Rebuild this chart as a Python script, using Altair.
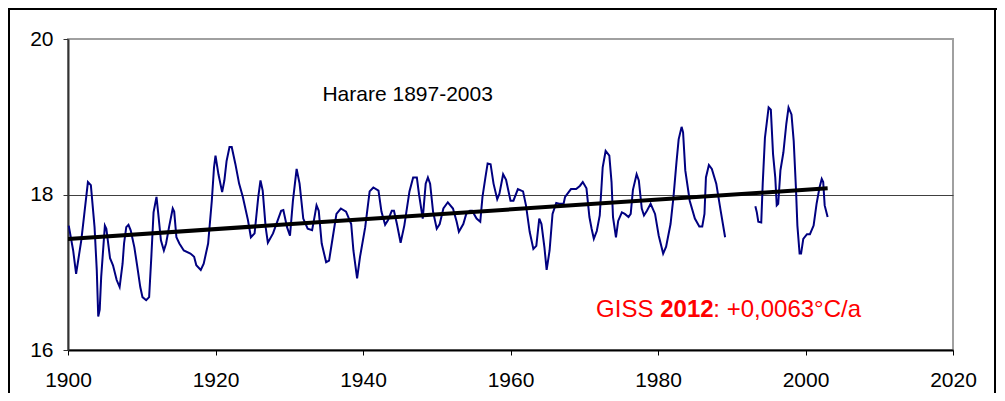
import altair as alt
import pandas as pd

# Smoothed temperature series, part 1 (1900-1989)
years1 = [1900.1, 1900.7, 1901.1, 1901.8, 1902.2, 1902.7, 1903.1, 1903.6, 1903.9, 1904.1,
          1904.3, 1904.5, 1905.0, 1905.2, 1905.7, 1906.1, 1906.6, 1907.0, 1907.4, 1907.6,
          1907.9, 1908.2, 1908.5, 1909.0, 1909.4, 1909.8, 1910.1, 1910.6, 1911.0, 1911.3,
          1911.6, 1912.0, 1912.2, 1912.6, 1913.0, 1913.3, 1913.7, 1914.2, 1914.4, 1914.7,
          1915.1, 1915.7, 1916.6, 1917.1, 1917.4, 1918.0, 1918.4, 1919.0, 1919.5, 1919.8,
          1920.0, 1920.4, 1920.9, 1921.2, 1921.5, 1921.9, 1922.2, 1922.7, 1923.2, 1923.7,
          1924.4, 1924.8, 1925.3, 1925.8, 1926.1, 1926.4, 1926.8, 1927.1, 1927.8, 1928.9,
          1929.2, 1929.7, 1930.1, 1930.5, 1931.0, 1931.4, 1931.9, 1932.5, 1933.1, 1933.5,
          1933.7, 1934.0, 1934.4, 1935.0, 1935.4, 1935.9, 1936.4, 1937.0, 1937.7, 1938.4,
          1938.7, 1939.2, 1939.6, 1940.3, 1940.9, 1941.4, 1942.1, 1942.5, 1943.0, 1943.4,
          1943.9, 1944.2, 1944.6, 1945.1, 1945.6, 1946.3, 1946.8, 1947.3, 1947.6, 1948.1,
          1948.5, 1948.8, 1949.1, 1949.5, 1950.0, 1950.4, 1950.9, 1951.5, 1952.2, 1952.7,
          1953.0, 1953.6, 1954.0, 1954.5, 1954.8, 1955.4, 1955.9, 1956.2, 1956.6, 1956.9,
          1957.3, 1957.7, 1958.2, 1958.5, 1959.0, 1959.4, 1960.0, 1960.4, 1961.0, 1961.7,
          1962.1, 1962.6, 1963.1, 1963.5, 1963.9, 1964.2, 1964.6, 1964.9, 1965.3, 1965.7,
          1966.2, 1966.6, 1967.2, 1967.4, 1968.2, 1968.9, 1969.4, 1969.8, 1970.3, 1970.7,
          1971.0, 1971.3, 1971.7, 1972.1, 1972.5, 1972.9, 1973.4, 1973.7, 1973.9, 1974.3,
          1974.6, 1975.1, 1975.5, 1976.0, 1976.3, 1976.6, 1977.1, 1977.4, 1977.8, 1978.1,
          1978.5, 1979.0, 1979.6, 1980.1, 1980.7, 1981.1, 1981.7, 1982.1, 1982.5, 1982.8,
          1983.2, 1983.4, 1983.7, 1984.3, 1985.0, 1985.6, 1986.0, 1986.3, 1986.5, 1986.9,
          1987.3, 1987.9, 1988.5, 1989.1]
temps1 = [17.60, 17.28, 16.98, 17.41, 17.74, 18.16, 18.12, 17.58, 17.03, 16.43,
          16.52, 16.94, 17.60, 17.56, 17.18, 17.09, 16.90, 16.81, 17.11, 17.37,
          17.58, 17.61, 17.54, 17.32, 17.07, 16.81, 16.68, 16.64, 16.68, 17.20,
          17.77, 17.97, 17.79, 17.41, 17.28, 17.37, 17.58, 17.82, 17.78, 17.45,
          17.37, 17.28, 17.24, 17.20, 17.09, 17.03, 17.11, 17.37, 17.92, 18.35,
          18.50, 18.26, 18.03, 18.18, 18.43, 18.61, 18.61, 18.39, 18.14, 17.97,
          17.67, 17.45, 17.50, 17.97, 18.18, 18.05, 17.58, 17.38, 17.50, 17.79,
          17.80, 17.58, 17.47, 17.92, 18.33, 18.14, 17.69, 17.56, 17.54, 17.75,
          17.86, 17.79, 17.37, 17.13, 17.15, 17.45, 17.75, 17.82, 17.78, 17.62,
          17.28, 16.92, 17.20, 17.58, 18.04, 18.09, 18.05, 17.78, 17.61, 17.67,
          17.79, 17.79, 17.62, 17.38, 17.60, 18.04, 18.22, 18.22, 18.00, 17.69,
          18.14, 18.22, 18.14, 17.78, 17.56, 17.62, 17.82, 17.90, 17.82, 17.65,
          17.52, 17.62, 17.75, 17.79, 17.79, 17.69, 17.65, 17.97, 18.22, 18.40,
          18.39, 18.14, 17.94, 18.01, 18.26, 18.19, 17.92, 17.92, 18.07, 18.04,
          17.86, 17.52, 17.30, 17.34, 17.69, 17.62, 17.32, 17.03, 17.28, 17.75,
          17.89, 17.88, 17.88, 17.97, 18.07, 18.07, 18.11, 18.16, 18.08, 17.71,
          17.56, 17.43, 17.53, 17.73, 18.35, 18.56, 18.50, 18.16, 17.71, 17.45,
          17.66, 17.77, 17.75, 17.71, 17.75, 18.06, 18.26, 18.18, 17.82, 17.73,
          17.79, 17.88, 17.75, 17.47, 17.24, 17.33, 17.62, 17.97, 18.41, 18.71,
          18.87, 18.80, 18.31, 17.92, 17.69, 17.59, 17.59, 17.75, 18.22, 18.38,
          18.33, 18.14, 17.79, 17.45]

# Smoothed temperature series, part 2 (1993-2003)
years2 = [1993.2, 1993.4, 1993.6, 1994.0, 1994.2, 1994.5, 1995.0, 1995.3, 1995.6, 1995.9,
          1996.1, 1996.3, 1996.6, 1997.0, 1997.4, 1997.7, 1998.1, 1998.4, 1998.7, 1998.9,
          1999.2, 1999.4, 1999.7, 2000.2, 2000.6, 2001.1, 2001.5, 2001.9, 2002.2, 2002.4,
          2002.6, 2003.0]
temps2 = [17.85, 17.77, 17.65, 17.64, 18.14, 18.73, 19.12, 19.09, 18.52, 18.22,
          17.86, 17.88, 18.31, 18.54, 18.91, 19.12, 19.03, 18.69, 18.09, 17.60,
          17.24, 17.24, 17.43, 17.49, 17.49, 17.60, 17.88, 18.09, 18.20, 18.16,
          17.86, 17.71]

# Linear trend
trend_years = [1897, 2003]
trend_temps = [17.41, 18.08]

x_ticks = [1900, 1920, 1940, 1960, 1980, 2000, 2020]
y_ticks = [16, 18, 20]

title_text = ["Harare 1897-2003"]
title_pos = [1934.5, 19.20]
giss_texts = ["GISS ", "2012", ": +0,0063°C/a"]
giss_years = [1971.6, 1980.3, 1987.5]
giss_temp = 16.42
giss_weights = ["normal", "bold", "normal"]

FONT = "Liberation Sans"

df = pd.DataFrame({
    "year": years1 + years2,
    "temp": temps1 + temps2,
    "seg": [1] * len(years1) + [2] * len(years2),
})
trend = pd.DataFrame({"year": trend_years, "temp": trend_temps})
tdf = pd.DataFrame({"label": title_text, "year": [title_pos[0]], "temp": [title_pos[1]]})
gdf = pd.DataFrame({"label": giss_texts, "year": giss_years,
                    "temp": [giss_temp] * 3, "w": giss_weights})

xscale = alt.Scale(domain=[1900, 2020], nice=False, zero=False)
yscale = alt.Scale(domain=[16, 20], nice=False, zero=False)

xaxis = alt.Axis(values=x_ticks, format="d", title=None, grid=False,
                 labelFontSize=21, labelFont=FONT, labelColor="black",
                 tickSize=5, tickColor="black", labelPadding=14,
                 domainColor="black", domainWidth=2, labelFlush=False)
yaxis = alt.Axis(values=y_ticks, format="d", title=None, grid=True,
                 gridColor=alt.condition("datum.value == 18", alt.value("#404040"), alt.value("#a0a0a0")),
                 gridWidth=1,
                 labelFontSize=21, labelFont=FONT, labelColor="black",
                 tickSize=5, tickColor="#333333", labelPadding=10,
                 domainColor="#333333", domainWidth=2)

blue = alt.Chart(df).mark_line(color="#000080", strokeWidth=2).encode(
    x=alt.X("year:Q", scale=xscale, axis=xaxis),
    y=alt.Y("temp:Q", scale=yscale, axis=yaxis),
    detail="seg:N",
)

tline = alt.Chart(trend).mark_line(color="black", strokeWidth=4, clip=True).encode(
    x=alt.X("year:Q", scale=xscale),
    y=alt.Y("temp:Q", scale=yscale),
)

ttext = alt.Chart(tdf).mark_text(align="left", baseline="alphabetic", font=FONT,
                                  fontSize=21, color="black").encode(
    x=alt.X("year:Q", scale=xscale),
    y=alt.Y("temp:Q", scale=yscale),
    text="label:N",
)

gtext_n = alt.Chart(gdf).transform_filter("datum.w == 'normal'").mark_text(
    align="left", baseline="alphabetic", font=FONT, fontSize=24, color="#ff0000").encode(
    x=alt.X("year:Q", scale=xscale),
    y=alt.Y("temp:Q", scale=yscale),
    text="label:N",
)
gtext_b = alt.Chart(gdf).transform_filter("datum.w == 'bold'").mark_text(
    align="left", baseline="alphabetic", font=FONT, fontSize=24, fontWeight="bold",
    color="#ff0000").encode(
    x=alt.X("year:Q", scale=xscale),
    y=alt.Y("temp:Q", scale=yscale),
    text="label:N",
)

# outer frame (decorative)
border_top = alt.Chart(trend).mark_rule(color="black", strokeWidth=2).encode(
    x=alt.value(-60), x2=alt.value(929), y=alt.value(-30))
border_left = alt.Chart(trend).mark_rule(color="black", strokeWidth=2).encode(
    x=alt.value(-59), y=alt.value(-31), y2=alt.value(360))
border_right = alt.Chart(trend).mark_rule(color="black", strokeWidth=2).encode(
    x=alt.value(927), y=alt.value(-31), y2=alt.value(360))

chart = alt.layer(blue, tline, ttext, gtext_n, gtext_b,
                  border_top, border_left, border_right).properties(
    width=885, height=311,
    autosize=alt.AutoSizeParams(type="none"),
    padding={"left": 60, "top": 31, "right": 44, "bottom": 43},
    background="white",
).configure_view(stroke="#a0a0a0", strokeWidth=2)

chart.save("out.html", embed_options={"renderer": "svg", "actions": False})
